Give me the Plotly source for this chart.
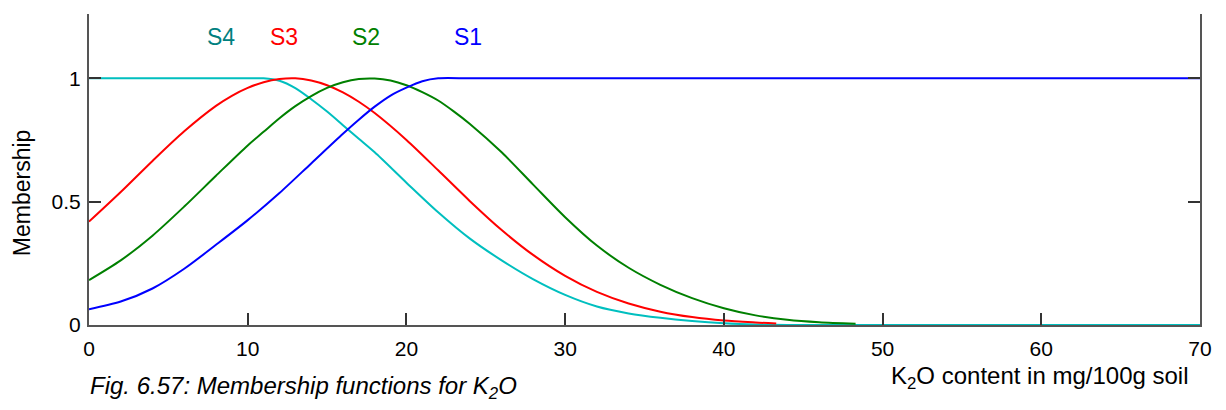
import plotly.graph_objects as go

# ---- data ----
s4_x = [0, 2, 4, 6, 8, 10, 11, 12, 13, 14, 15, 16, 17, 18, 20, 22, 24, 26, 28, 30, 32, 34, 36, 38, 40,
        42, 44, 46, 50, 54, 58, 62, 66, 70]
s4_y = [1.0, 1.0, 1.0, 1.0, 1.0, 1.0, 1.0, 0.99, 0.96, 0.915, 0.865, 0.81, 0.755, 0.70, 0.577, 0.457,
        0.35, 0.262, 0.185, 0.122, 0.075, 0.047, 0.029, 0.016, 0.007, 0.002, 0.0, 0.0, 0.0, 0.0, 0.0,
        0.0, 0.0, 0.0]

s3_x = [0, 2, 4, 6, 8, 9, 10, 11, 12, 13, 14, 15, 16, 17, 18, 20, 22, 24, 26, 28, 30, 32, 34, 36, 38,
        40, 42, 43.3]
s3_y = [0.419, 0.539, 0.665, 0.785, 0.888, 0.929, 0.961, 0.984, 0.997, 1.0, 0.991, 0.972, 0.943, 0.905,
        0.859, 0.75, 0.627, 0.502, 0.385, 0.283, 0.199, 0.134, 0.087, 0.054, 0.032, 0.018, 0.01, 0.006]

s2_x = [0, 2, 4, 6, 8, 10, 11, 12, 13, 14, 15, 16, 17, 18, 19, 20, 21, 22, 23, 24, 26, 28, 30, 32, 34,
        36, 38, 40, 42, 44, 46, 48.3]
s2_y = [0.182, 0.262, 0.362, 0.48, 0.605, 0.728, 0.783, 0.838, 0.887, 0.928, 0.961, 0.984, 0.997, 0.999,
        0.991, 0.972, 0.944, 0.91, 0.865, 0.815, 0.70, 0.568, 0.437, 0.322, 0.232, 0.163, 0.109, 0.068,
        0.039, 0.021, 0.011, 0.005]

s1_x = [0, 2, 4, 6, 8, 10, 12, 14, 16, 17, 18, 19, 20, 21, 22, 24, 28, 32, 36, 40, 44, 48, 52, 56, 60,
        64, 68, 70]
s1_y = [0.064, 0.095, 0.148, 0.228, 0.325, 0.425, 0.535, 0.655, 0.775, 0.832, 0.885, 0.93, 0.962, 0.988,
        1.0, 1.0, 1.0, 1.0, 1.0, 1.0, 1.0, 1.0, 1.0, 1.0, 1.0, 1.0, 1.0, 1.0]

series_names = ["S4", "S3", "S2", "S1"]
line_colors = ["#00BFBF", "#FF0000", "#008000", "#0000FF"]
label_colors = ["#008080", "#FF0000", "#008000", "#0000FF"]
label_x = [8.3, 12.3, 17.45, 23.9]
label_y = 1.167

x_ticks = [0, 10, 20, 30, 40, 50, 60, 70]
y_ticks = [0, 0.5, 1]
y_tick_text = ["0", "0.5", "1"]

FONT = "Liberation Sans, Arial, sans-serif"

fig = go.Figure()
for xs, ys, name, col in zip([s4_x, s3_x, s2_x, s1_x], [s4_y, s3_y, s2_y, s1_y], series_names, line_colors):
    fig.add_trace(go.Scatter(x=xs, y=ys, mode="lines", name=name,
                             line=dict(color=col, width=2, shape="spline", smoothing=0.8),
                             showlegend=False, hoverinfo="skip"))

annotations = []
for name, lx, col in zip(series_names, label_x, label_colors):
    annotations.append(dict(x=lx, y=label_y, xref="x", yref="y", text=name, showarrow=False,
                            xanchor="center", yanchor="middle",
                            font=dict(family=FONT, size=23, color=col)))

annotations.append(dict(xref="paper", yref="paper", x=-0.0603, y=0.424, text="Membership",
                        xanchor="center", yanchor="middle",
                        textangle=-90, showarrow=False, font=dict(family=FONT, size=23, color="black")))
annotations.append(dict(xref="paper", yref="paper", x=0.992, y=-0.168, xanchor="right", yanchor="middle",
                        text="K<sub>2</sub>O content in mg/100g soil", showarrow=False,
                        font=dict(family=FONT, size=24, color="black")))
annotations.append(dict(xref="paper", yref="paper", x=-0.001, y=-0.2, xanchor="left", yanchor="middle",
                        text="<i>Fig. 6.57: Membership functions for K<sub>2</sub>O</i>", showarrow=False,
                        font=dict(family=FONT, size=24, color="black")))

# the page body has an 8px margin; size the figure so the plot area lands on the reference pixels
fig.update_layout(
    width=1210, height=394,
    margin=dict(l=81, r=18, t=6, b=77, autoexpand=False),
    paper_bgcolor="white", plot_bgcolor="white",
    font=dict(family=FONT, size=20, color="black"),
    annotations=annotations,
)
fig.update_xaxes(range=[0, 70], tickvals=x_ticks, ticks="inside", ticklen=12, tickwidth=1.5,
                 tickcolor="#333", showline=True, linecolor="#555", linewidth=2, mirror=False,
                 showgrid=False, zeroline=False, tickfont=dict(size=21), ticklabelstandoff=4)
fig.update_yaxes(range=[0, 1.2606], tickvals=y_ticks, ticktext=y_tick_text, ticks="inside", ticklen=12,
                 tickwidth=1.5, tickcolor="#333", showline=True, linecolor="#555", linewidth=2,
                 mirror="ticks", showgrid=False, zeroline=False, tickfont=dict(size=21), ticklabelstandoff=2)

fig.write_html("out.html")
